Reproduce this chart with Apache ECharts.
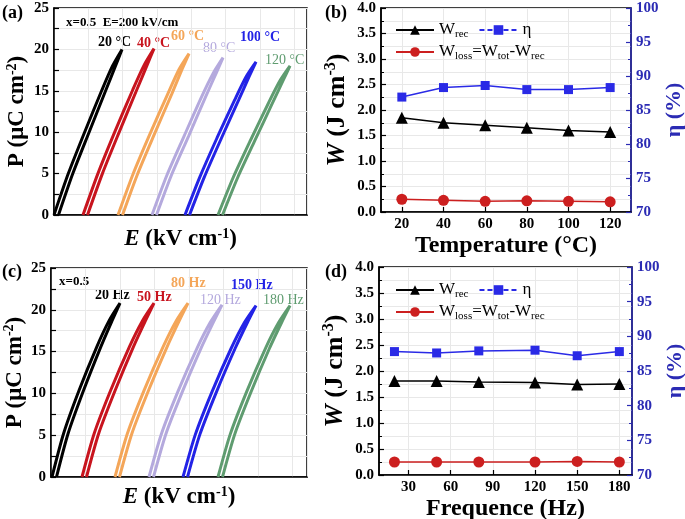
<!DOCTYPE html>
<html>
<head>
<meta charset="utf-8">
<script src="https://cdn.jsdelivr.net/npm/echarts@6/dist/echarts.min.js"></script>
<style>
html,body{margin:0;padding:0;background:#fff}
#main{width:685px;height:519px}
</style>
</head>
<body>
<div id="main"></div>
<script>
// ---- data ----
var temps = [20, 40, 60, 80, 100, 120];
var tWrec = [1.85, 1.75, 1.70, 1.65, 1.60, 1.57];
var tWloss = [0.25, 0.23, 0.21, 0.22, 0.21, 0.20];
var tEta = [86.9, 88.3, 88.6, 88.0, 88.0, 88.3];

var freqs = [20, 50, 80, 120, 150, 180];
var fWrec = [1.81, 1.81, 1.79, 1.78, 1.74, 1.75];
var fWloss = [0.25, 0.25, 0.25, 0.25, 0.26, 0.25];
var fEta = [87.8, 87.6, 87.9, 88.0, 87.2, 87.8];

var tempLabels = ['20 °C', '40 °C', '60 °C', '80 °C', '100 °C', '120 °C'];
var freqLabels = ['20 Hz', '50 Hz', '80 Hz', '120 Hz', '150 Hz', '180 Hz'];
var loopColors = ['#000000', '#c8141e', '#f4a659', '#b4a9dd', '#2323e6', '#5f9c70'];

// P-E loops [E, P]: up the upper branch to the tip, back down the lower branch
var loopsT = [
	[[0,0],[14.3,5],[30.6,10],[47.6,15],[58.5,18],[68,20],[61.5,18],[51.6,15],[35.1,10],[18.8,5],[4.5,0]],
	[[29,0],[43.9,5],[61,10.1],[78.7,15.1],[90.1,18.1],[100,20.1],[93.1,18.1],[82.7,15.1],[65.5,10.1],[48.4,5],[33.5,0]],
	[[64,0],[78.9,4.9],[96,9.8],[113.7,14.6],[125.1,17.6],[135,19.5],[128.1,17.6],[117.7,14.6],[100.5,9.8],[83.4,4.9],[68.5,0]],
	[[98,0],[112.9,4.8],[130,9.5],[147.7,14.3],[159.1,17.1],[169,19],[162.1,17.1],[151.7,14.3],[134.5,9.5],[117.4,4.8],[102.5,0]],
	[[131,0],[145.9,4.6],[163,9.3],[180.7,13.9],[192.1,16.7],[202,18.5],[195.1,16.7],[184.7,13.9],[167.5,9.3],[150.4,4.6],[135.5,0]],
	[[164,0],[179.1,4.5],[196.4,9],[214.4,13.5],[225.9,16.2],[236,18],[228.9,16.2],[218.4,13.5],[200.9,9],[183.6,4.5],[168.5,0]]
];
var loopsF = [
	[[1,0],[12.6,5.2],[28.2,10.4],[45.9,15.6],[58.1,18.7],[69,20.8],[61.1,18.7],[49.9,15.6],[32.7,10.4],[17.1,5.2],[5.5,0]],
	[[31,0],[43.2,5.2],[59.8,10.4],[78.5,15.6],[91.5,18.7],[103,20.8],[94.5,18.7],[82.5,15.6],[64.3,10.4],[47.7,5.2],[35.5,0]],
	[[64,0],[76.4,5.2],[93.2,10.4],[112.2,15.6],[125.3,18.7],[137,20.8],[128.3,18.7],[116.2,15.6],[97.7,10.4],[80.9,5.2],[68.5,0]],
	[[98,0],[110.4,5.15],[127.2,10.3],[146.2,15.45],[159.3,18.5],[171,20.6],[162.3,18.5],[150.2,15.45],[131.7,10.3],[114.9,5.15],[102.5,0]],
	[[132,0],[144.4,5.1],[161.2,10.25],[180.2,15.4],[193.3,18.45],[205,20.5],[196.3,18.45],[184.2,15.4],[165.7,10.25],[148.9,5.1],[136.5,0]],
	[[167,0],[179.2,5.1],[195.8,10.25],[214.5,15.4],[227.5,18.45],[239,20.5],[230.5,18.45],[218.5,15.4],[200.3,10.25],[183.7,5.1],[171.5,0]]
];

var FONT = '"Liberation Serif","Times New Roman",serif';
var BLUE = '#2b2bb4';
var GRIDC = '#e8e8e8';

function titleStyle(color, size) {
	size = size || 22;
	var sup = Math.round(size * 0.6);
	return {
		fontFamily: FONT, fontSize: size, fontWeight: 'bold', color: color || '#000', lineHeight: size + 2,
		rich: {
			i: {fontFamily: FONT, fontSize: size, fontWeight: 'bold', fontStyle: 'italic', color: color || '#000', lineHeight: size + 2},
			sup: {fontFamily: FONT, fontSize: sup, fontWeight: 'bold', color: color || '#000', verticalAlign: 'top', lineHeight: sup}
		}
	};
}
function tickLabel(color) {
	return {color: color || '#000', fontFamily: FONT, fontSize: 15, fontWeight: 'bold', margin: 5};
}
function peX(gi, max, step, gap) {
	return {
		gridIndex: gi, type: 'value', min: 0, max: max, interval: step,
		axisLine: {show: true, lineStyle: {color: '#000', width: 1.5}},
		axisTick: {show: false},
		axisLabel: {show: false},
		splitLine: {show: true, lineStyle: {color: GRIDC}},
		name: '{i|E} (kV cm{sup|-1})', nameLocation: 'middle', nameGap: gap,
		nameTextStyle: titleStyle('#000', 23)
	};
}
function peY(gi, gap) {
	return {
		gridIndex: gi, type: 'value', min: 0, max: 25, interval: 5,
		axisLine: {show: true, lineStyle: {color: '#000', width: 1.5}},
		axisTick: {show: true, inside: true, length: 5, lineStyle: {color: '#000', width: 1.2}},
		minorTick: {show: true, splitNumber: 2, length: 5, lineStyle: {color: '#000', width: 1.2}},
		axisLabel: tickLabel(),
		splitLine: {show: true, lineStyle: {color: GRIDC}},
		minorSplitLine: {show: true, lineStyle: {color: GRIDC}},
		name: 'P (μC cm{sup|-2})', nameLocation: 'middle', nameRotate: 90, nameGap: gap,
		nameTextStyle: titleStyle('#000', 23)
	};
}
function wY(gi) {
	return {
		gridIndex: gi, type: 'value', min: 0, max: 4, interval: 0.5,
		axisLine: {show: true, lineStyle: {color: '#000', width: 1.5}},
		axisTick: {show: true, inside: true, length: 5, lineStyle: {color: '#000', width: 1.2}},
		minorTick: {show: true, splitNumber: 2, length: 3, lineStyle: {color: '#000'}},
		axisLabel: Object.assign(tickLabel(), {formatter: function(v) { return v.toFixed(1); }}),
		splitLine: {show: true, lineStyle: {color: GRIDC}},
		minorSplitLine: {show: true, lineStyle: {color: GRIDC}},
		name: '{i|W} (J cm{sup|-3})', nameLocation: 'middle', nameRotate: 90, nameGap: 30,
		nameTextStyle: titleStyle('#000', 26)
	};
}
function etaY(gi) {
	return {
		gridIndex: gi, type: 'value', position: 'right', min: 70, max: 100, interval: 5,
		axisLine: {show: true, lineStyle: {color: BLUE, width: 1.5}},
		axisTick: {show: true, inside: true, length: 5, lineStyle: {color: BLUE, width: 1.2}},
		minorTick: {show: true, splitNumber: 2, length: 3, lineStyle: {color: BLUE}},
		axisLabel: tickLabel(BLUE),
		splitLine: {show: false},
		name: 'η (%)', nameLocation: 'middle', nameRotate: 90, nameGap: 28,
		nameTextStyle: titleStyle(BLUE, 22)
	};
}
function catX(gi, min, max, step, ticks, title, gap) {
	return {
		gridIndex: gi, type: 'value', min: min, max: max, interval: step,
		axisLine: {show: true, lineStyle: {color: '#000', width: 1.5}},
		axisTick: {show: true, inside: true, length: 5, customValues: ticks, lineStyle: {color: '#000', width: 1.2}},
		axisLabel: Object.assign(tickLabel(), {customValues: ticks}),
		splitLine: {show: true, lineStyle: {color: GRIDC}},
		name: title, nameLocation: 'middle', nameGap: gap,
		nameTextStyle: titleStyle('#000', 24)
	};
}

function loopSeries(loops, xi, yi) {
	return loops.map(function(pts, i) {
		return {
			type: 'line', xAxisIndex: xi, yAxisIndex: yi, data: pts,
			showSymbol: false, symbol: 'none', smooth: 0.25, clip: true,
			lineStyle: {color: loopColors[i], width: 3}, z: 3
		};
	});
}
function pairs(xs, ys) {
	return xs.map(function(x, i) { return [x, ys[i]]; });
}
function wSeries(xs, wrec, wloss, eta, xi, yl, yr) {
	return [{
		name: 'Wrec', type: 'line', xAxisIndex: xi, yAxisIndex: yl, data: pairs(xs, wrec),
		symbol: 'triangle', symbolSize: 12, color: '#000',
		lineStyle: {color: '#000', width: 1.5}, itemStyle: {color: '#000'}
	}, {
		name: 'eta', type: 'line', xAxisIndex: xi, yAxisIndex: yr, data: pairs(xs, eta),
		symbol: 'rect', symbolSize: 9, color: '#2a2ae6',
		lineStyle: {color: '#2a2ae6', width: 1.5}, itemStyle: {color: '#2a2ae6'}
	}, {
		name: 'Wloss', type: 'line', xAxisIndex: xi, yAxisIndex: yl, data: pairs(xs, wloss),
		symbol: 'circle', symbolSize: 11, color: '#cc1f1f',
		lineStyle: {color: '#cc1f1f', width: 1.5}, itemStyle: {color: '#cc1f1f'}
	}];
}

function legendFmt(name) {
	if (name === 'Wrec') return 'W{s|rec}';
	if (name === 'eta') return 'η';
	return 'W{s|loss}=W{s|tot}-W{s|rec}';
}
function legendRow(names, left, top) {
	return {
		data: names.map(function(n) {
			return n === 'eta' ? {name: n, lineStyle: {type: [5, 3]}} : n;
		}),
		left: left, top: top, orient: 'horizontal', itemWidth: 38, itemHeight: 12, itemGap: 10,
		selectedMode: false, formatter: legendFmt,
		textStyle: {
			fontFamily: FONT, fontSize: 17, color: '#000', lineHeight: 20,
			rich: {s: {fontFamily: FONT, fontSize: 11, color: '#000', verticalAlign: 'bottom', lineHeight: 11}}
		}
	};
}

function txt(x, y, s, color, size, weight) {
	return {
		type: 'text', x: x, y: y, silent: true,
		style: {text: s, fill: color, font: (weight || 'bold') + ' ' + size + 'px ' + FONT, align: 'left', verticalAlign: 'middle'}
	};
}

var dom = document.getElementById('main');
var myChart = echarts.init(dom, null, {renderer: 'canvas'});

var tPos = [[98, 42], [137, 43], [171, 36], [203, 48], [240, 37], [265, 60]];
var fPos = [[95, 295], [137, 297], [171, 283], [200, 300], [231, 285], [263, 300]];
var weights = ['bold', 'bold', 'bold', 'normal', 'bold', 'normal'];
var graphics = [
	txt(2, 13, '(a)', '#000', 18), txt(325, 13, '(b)', '#000', 18),
	txt(2, 272, '(c)', '#000', 18), txt(325, 272, '(d)', '#000', 18),
	txt(66, 23, 'x=0.5  E=200 kV/cm', '#000', 13),
	txt(59, 282, 'x=0.5', '#000', 13)
];
tempLabels.forEach(function(s, i) { graphics.push(txt(tPos[i][0], tPos[i][1], s, loopColors[i], 14, weights[i])); });
freqLabels.forEach(function(s, i) { graphics.push(txt(fPos[i][0], fPos[i][1], s, loopColors[i], 14, weights[i])); });

var option = {
	animation: false,
	backgroundColor: '#fff',
	grid: [
		{left: 54, top: 8, right: 378, bottom: 304, show: true, borderColor: '#000', borderWidth: 1.5, outerBoundsMode: 'none'},
		{left: 381, top: 8, right: 54, bottom: 307, show: true, borderColor: '#000', borderWidth: 1.5, outerBoundsMode: 'none'},
		{left: 51, top: 268, right: 378, bottom: 42, show: true, borderColor: '#000', borderWidth: 1.5, outerBoundsMode: 'none'},
		{left: 379, top: 267, right: 53, bottom: 44, show: true, borderColor: '#000', borderWidth: 1.5, outerBoundsMode: 'none'}
	],
	xAxis: [
		peX(0, 253, 34.3, 12),
		catX(1, 10, 130, 10, [20, 40, 60, 80, 100, 120], 'Temperature (°C)', 21),
		peX(2, 256, 34.5, 8),
		catX(3, 9, 189, 10, [30, 60, 90, 120, 150, 180], 'Frequence (Hz)', 21)
	],
	yAxis: [
		peY(0, 24), wY(1), etaY(1), peY(2, 21), wY(3), etaY(3)
	],
	legend: [
		legendRow(['Wrec', 'eta'], 390, 15),
		legendRow(['Wloss'], 390, 37),
		legendRow(['Wrec', 'eta'], 390, 275),
		legendRow(['Wloss'], 390, 297)
	],
	graphic: graphics,
	series: [].concat(
		loopSeries(loopsT, 0, 0),
		wSeries(temps, tWrec, tWloss, tEta, 1, 1, 2),
		loopSeries(loopsF, 2, 3),
		wSeries(freqs, fWrec, fWloss, fEta, 3, 4, 5)
	)
};

if (option && typeof option === 'object') {
	myChart.setOption(option, true);
}
</script>
</body>
</html>
